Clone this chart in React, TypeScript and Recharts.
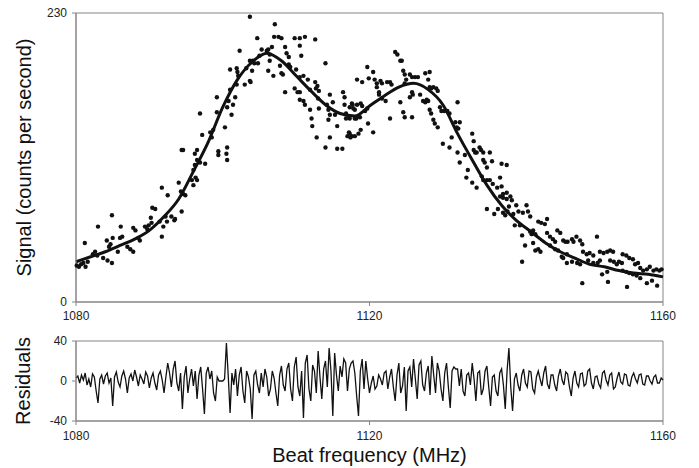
import React from "react";
import { ComposedChart, LineChart, Scatter, Line, XAxis, YAxis, ReferenceArea } from "recharts";

const FONT = '"Liberation Sans", Arial, Helvetica, sans-serif';
const FRAME = "#858585";
const INK = "#111";

const FREQ_TICKS = [1080, 1120, 1160];
const SIGNAL_TICKS = [0, 230];
const RESID_TICKS = [-40, 0, 40];

// measured signal, [beat frequency MHz, counts per second]
const SIGNAL_POINTS: [number, number][] = [
  [1080.1, 29], [1080.4, 28], [1080.7, 30], [1081, 31], [1081.3, 28], [1081.6, 32], [1081.2, 47],
  [1082.3, 38], [1082.6, 40], [1082.9, 37], [1083, 60], [1083.7, 35], [1084.3, 33], [1084.9, 31],
  [1084.2, 49], [1084.5, 44], [1084.7, 46], [1085, 51], [1084.9, 69], [1085.7, 40], [1086, 51],
  [1086.3, 52], [1086.1, 60], [1087, 44], [1087.4, 42], [1087.8, 40], [1087.8, 59], [1088.1, 57],
  [1088.5, 51], [1088.7, 49], [1089.4, 60], [1089.7, 58], [1089.9, 61], [1090.3, 63], [1090.2, 67],
  [1090.4, 75], [1090.8, 74], [1091.4, 64], [1091.7, 52], [1091.9, 60], [1092.2, 68], [1092.4, 64],
  [1091.7, 91], [1092.5, 85], [1093, 68], [1093.4, 65], [1093.5, 66], [1094, 95], [1094.3, 88],
  [1094.6, 86], [1094.9, 85], [1094.4, 72], [1094.4, 121], [1094.6, 121], [1095.8, 97], [1096, 93],
  [1096.3, 99], [1096.5, 97], [1096, 105], [1096.2, 109], [1096.5, 113], [1096.2, 118], [1096.5, 121],
  [1096.9, 111], [1097.6, 110], [1097.2, 133], [1098.3, 135], [1098.5, 131], [1098.7, 137],
  [1099.4, 117], [1100.3, 139], [1100.6, 123], [1100.6, 113], [1096.9, 150], [1099.2, 163],
  [1099.2, 151], [1099.4, 120], [1100.5, 118], [1100.6, 155], [1100.8, 160], [1101, 169],
  [1101.2, 149], [1101.4, 157], [1101.7, 163], [1101.9, 173], [1101, 185], [1101.9, 186], [1102, 183],
  [1102.1, 180], [1102.3, 200], [1103, 173], [1103.2, 186], [1103.7, 176], [1103.8, 175], [1104, 184],
  [1103.7, 227], [1103.7, 192], [1104.1, 192], [1104.3, 190], [1104.8, 190], [1105, 196], [1105.3, 201],
  [1104.7, 210], [1106, 200], [1106.2, 201], [1106.4, 197], [1106.7, 203], [1106.4, 192], [1106.2, 184],
  [1106.9, 180], [1107.1, 221], [1107, 211], [1107.6, 211], [1108, 210], [1108.5, 203], [1108.7, 198],
  [1109, 195], [1107.8, 188], [1108, 182], [1108.2, 181], [1109, 189], [1109.2, 187], [1108.5, 167],
  [1109.8, 210], [1110.5, 210], [1111.2, 211], [1110.5, 204], [1110.7, 196], [1110, 185], [1110.5, 179],
  [1111, 180], [1109.8, 170], [1110.2, 167], [1110.5, 167], [1110.5, 161], [1111, 160], [1111.2, 157],
  [1111.6, 177], [1111.9, 169], [1111.9, 153], [1112.1, 146], [1112.2, 140], [1112.6, 209],
  [1112.6, 175], [1112.7, 170], [1112.9, 172], [1113.1, 168], [1113, 162], [1113.1, 154], [1112.8, 131],
  [1114, 190], [1114.2, 157], [1114.4, 153], [1114.6, 165], [1114.6, 149], [1114.4, 145], [1114, 123],
  [1114.6, 131], [1115, 159], [1115.3, 149], [1115.6, 140], [1115.6, 122], [1116.3, 122], [1116.4, 167],
  [1116.6, 163], [1116.6, 157], [1116.8, 150], [1116.8, 146], [1117, 132], [1117.2, 135], [1117.4, 131],
  [1117.6, 132], [1117.6, 158], [1117.8, 154], [1118, 146], [1118.3, 177], [1117.3, 155], [1117.7, 157],
  [1118, 153], [1118.3, 157], [1118.8, 158], [1119, 156], [1117.3, 146], [1118.2, 146], [1118.7, 147],
  [1117.3, 134], [1118, 132], [1118.5, 134], [1118.8, 137], [1119, 175], [1119.4, 152], [1119.7, 154],
  [1119.7, 187], [1119.9, 178], [1119.8, 142], [1120.5, 135], [1120.5, 183], [1120.7, 177], [1121, 174],
  [1121, 171], [1121.3, 167], [1121.5, 176], [1121.7, 174], [1121.3, 165], [1121.7, 162], [1122.2, 160],
  [1122.4, 175], [1122.8, 175], [1123, 173], [1122.8, 146], [1123.5, 199], [1123.8, 197], [1124.2, 192],
  [1124.4, 192], [1124.2, 159], [1124.6, 184], [1124.8, 181], [1124.8, 174], [1125, 177], [1124.6, 151],
  [1124.8, 147], [1125.5, 181], [1125.8, 179], [1126.2, 179], [1126.6, 179], [1125.5, 163], [1125.8, 167],
  [1125.9, 165], [1125.8, 147], [1126.9, 165], [1127.3, 160], [1127.6, 159], [1127.8, 161], [1128, 160],
  [1127.6, 182], [1128, 177], [1128.2, 183], [1128.2, 171], [1128.4, 170], [1128.7, 171], [1129.1, 170],
  [1129.3, 168], [1128.2, 153], [1128.4, 150], [1128.7, 145], [1128.9, 142], [1129.3, 139], [1129.6, 155],
  [1129.8, 152], [1130.2, 152], [1130.6, 152], [1130.9, 150], [1130, 126], [1130.9, 123], [1131.2, 131],
  [1132, 159], [1131.7, 143], [1131.9, 139], [1132.1, 138], [1132.3, 143], [1132, 119], [1132.3, 111],
  [1133, 117], [1133.4, 105], [1133.2, 99], [1134, 134], [1134.2, 128], [1134.2, 121], [1134.4, 119],
  [1134, 95], [1134.6, 91], [1134.6, 119], [1135, 123], [1135.2, 121], [1135.5, 119], [1135.5, 113],
  [1135.7, 111], [1136, 107], [1135.3, 100], [1135.5, 97], [1136, 97], [1136.4, 97], [1136.4, 119],
  [1136.7, 112], [1136.8, 94], [1137.4, 91], [1138, 110], [1138.7, 109], [1137.8, 99], [1138, 92],
  [1136, 74], [1137, 70], [1137.5, 74], [1138.2, 71], [1138.5, 69], [1138.2, 83], [1138.7, 82],
  [1137.8, 84], [1138.2, 86], [1138.7, 87], [1139.2, 84], [1139.4, 81], [1138.8, 72], [1139, 76],
  [1139.6, 70], [1140, 77], [1140.3, 72], [1140.9, 71], [1141.4, 77], [1141.6, 72], [1141.9, 68],
  [1139.8, 61], [1140.5, 61], [1140.8, 53], [1140.8, 32], [1141.2, 45], [1142.3, 47], [1142.1, 54],
  [1141.9, 56], [1142.3, 57], [1142.6, 54], [1142.6, 41], [1143, 42], [1143.3, 40], [1143, 64],
  [1143.4, 63], [1143.9, 62], [1144.2, 66], [1144.2, 55], [1144.6, 52], [1145, 50], [1145.3, 48],
  [1144.6, 45], [1145.3, 42], [1145.7, 41], [1146.2, 36], [1146.4, 35], [1146.9, 38], [1145.6, 57],
  [1146, 55], [1146.4, 49], [1146.7, 48], [1147, 48], [1147.6, 50], [1147.8, 48], [1148.2, 52],
  [1148.7, 49], [1149, 46], [1146.9, 31], [1147.6, 32], [1148.3, 31], [1148.7, 30], [1149, 15],
  [1149.1, 40], [1149.6, 38], [1150, 39], [1150.5, 37], [1151, 52], [1149.8, 33], [1150.5, 31],
  [1151.1, 31], [1151.4, 33], [1151.4, 40], [1151.9, 39], [1152.4, 40], [1152.8, 41], [1153.2, 40],
  [1151.7, 22], [1152.4, 24], [1152.8, 33], [1153.3, 32], [1153.7, 30], [1154, 32], [1154.4, 31],
  [1154.5, 38], [1155, 37], [1155.4, 35], [1155.9, 34], [1152.5, 16], [1154.5, 25], [1155, 24],
  [1155.4, 23], [1155.9, 22], [1156.4, 21], [1155.1, 12], [1156.9, 27], [1157.3, 25], [1157.8, 26],
  [1158.2, 28], [1158.7, 25], [1159.1, 26], [1159.5, 25], [1159.8, 26], [1156.9, 19], [1157.8, 15],
  [1158.5, 17], [1159.2, 13], [1156.2, 30], [1156.6, 31],
];

// fitted curve
const FIT_FREQ = [
  1080, 1082, 1084, 1086, 1088, 1090, 1092, 1094, 1096, 1098, 1100, 1102, 1104, 1106, 1108, 1110, 1112,
  1114, 1116, 1118, 1120, 1122, 1124, 1126, 1128, 1130, 1132, 1134, 1136, 1138, 1140, 1142, 1144, 1146,
  1148, 1150, 1152, 1154, 1156, 1158, 1160,
];
const FIT_COUNTS = [
  32, 36, 40, 45, 50, 57, 68, 82, 104, 127, 155, 177, 191, 198, 192, 180, 168,
  157, 150, 148, 156, 164, 171, 174, 169, 157, 134, 113, 93, 77, 65, 56, 47, 40,
  35, 30, 28, 25, 23, 22, 20,
];

// residuals, [beat frequency MHz, residual]
const RESIDUALS: [number, number][] = [
  [1080, 3], [1080.25, 5], [1080.5, -2], [1080.75, 6], [1081, 1], [1081.25, 8], [1081.5, -4], [1081.75, 2],
  [1082, -6], [1082.25, 7], [1082.5, 4], [1082.75, -10], [1083, -22], [1083.25, 2], [1083.5, 6], [1083.75, -3],
  [1084, 5], [1084.25, 8], [1084.5, -2], [1084.75, 3], [1085, -25], [1085.25, 4], [1085.5, 9], [1085.75, -1],
  [1086, -6], [1086.25, 5], [1086.5, 10], [1086.75, 2], [1087, -12], [1087.25, 3], [1087.5, 7], [1087.75, 0],
  [1088, 11], [1088.25, 4], [1088.5, -5], [1088.75, 6], [1089, 2], [1089.25, -3], [1089.5, 9], [1089.75, 5],
  [1090, -7], [1090.25, 3], [1090.5, 8], [1090.75, -2], [1091, -9], [1091.25, 6], [1091.5, 10], [1091.75, 1],
  [1092, -12], [1092.25, 4], [1092.5, 18], [1092.75, 8], [1093, -6], [1093.25, 12], [1093.5, 20], [1093.75, -2],
  [1094, -10], [1094.25, 8], [1094.5, -28], [1094.75, 4], [1095, 15], [1095.25, -12], [1095.5, 2], [1095.75, 12],
  [1096, -5], [1096.25, 10], [1096.5, -18], [1096.75, 6], [1097, 14], [1097.25, -8], [1097.5, -33], [1097.75, 8],
  [1098, 14], [1098.25, 2], [1098.5, 10], [1098.75, -12], [1099, -20], [1099.25, 4], [1099.5, 0], [1099.75, 0],
  [1100, 0], [1100.25, 2], [1100.5, 38], [1100.75, 5], [1101, -32], [1101.25, 8], [1101.5, -4], [1101.75, 12],
  [1102, -15], [1102.25, 6], [1102.5, 14], [1102.75, -10], [1103, -22], [1103.25, 10], [1103.5, 4], [1103.75, -8],
  [1104, -38], [1104.25, 6], [1104.5, 10], [1104.75, -4], [1105, -12], [1105.25, 8], [1105.5, -6], [1105.75, 12],
  [1106, 4], [1106.25, -15], [1106.5, -8], [1106.75, 10], [1107, 3], [1107.25, -12], [1107.5, -25], [1107.75, 6],
  [1108, 15], [1108.25, -4], [1108.5, -10], [1108.75, 12], [1109, 18], [1109.25, -8], [1109.5, -20], [1109.75, 14],
  [1110, 24], [1110.25, -6], [1110.5, -15], [1110.75, 10], [1111, -37], [1111.25, 18], [1111.5, 26], [1111.75, -8],
  [1112, -20], [1112.25, 16], [1112.5, 10], [1112.75, -12], [1113, 30], [1113.25, 4], [1113.5, -18], [1113.75, 12],
  [1114, 20], [1114.25, -6], [1114.5, 33], [1114.75, 10], [1115, -35], [1115.25, 28], [1115.5, 6], [1115.75, -10],
  [1116, 15], [1116.25, 4], [1116.5, 22], [1116.75, 18], [1117, -10], [1117.25, 12], [1117.5, 18], [1117.75, 20],
  [1118, 8], [1118.25, -15], [1118.5, -35], [1118.75, 10], [1119, 22], [1119.25, -8], [1119.5, 20], [1119.75, 2],
  [1120, -12], [1120.25, -2], [1120.5, 5], [1120.75, -8], [1121, -5], [1121.25, 6], [1121.5, 2], [1121.75, -4],
  [1122, 8], [1122.25, 10], [1122.5, -8], [1122.75, 4], [1123, 12], [1123.25, -6], [1123.5, -20], [1123.75, 6],
  [1124, 18], [1124.25, -12], [1124.5, -5], [1124.75, 14], [1125, -30], [1125.25, 10], [1125.5, 14], [1125.75, -6],
  [1126, 22], [1126.25, 2], [1126.5, -18], [1126.75, 16], [1127, 20], [1127.25, -4], [1127.5, -10], [1127.75, 8],
  [1128, 15], [1128.25, -14], [1128.5, 25], [1128.75, 6], [1129, -12], [1129.25, 18], [1129.5, 10], [1129.75, -8],
  [1130, -20], [1130.25, 8], [1130.5, 18], [1130.75, -6], [1131, -27], [1131.25, 10], [1131.5, 14], [1131.75, 12],
  [1132, 12], [1132.25, -5], [1132.5, 12], [1132.75, -10], [1133, -15], [1133.25, 6], [1133.5, 8], [1133.75, -4],
  [1134, 18], [1134.25, 2], [1134.5, -20], [1134.75, 8], [1135, 10], [1135.25, -14], [1135.5, -8], [1135.75, 10],
  [1136, 15], [1136.25, -6], [1136.5, -25], [1136.75, 4], [1137, 6], [1137.25, -10], [1137.5, -15], [1137.75, 8],
  [1138, 12], [1138.25, -4], [1138.5, -28], [1138.75, 10], [1139, 33], [1139.25, -6], [1139.5, -30], [1139.75, 2],
  [1140, 8], [1140.25, -4], [1140.5, -10], [1140.75, 6], [1141, 12], [1141.25, -2], [1141.5, -6], [1141.75, 10],
  [1142, 9], [1142.25, -8], [1142.5, -12], [1142.75, 4], [1143, 10], [1143.25, 2], [1143.5, -5], [1143.75, 8],
  [1144, 15], [1144.25, -3], [1144.5, -8], [1144.75, 6], [1145, 6], [1145.25, -4], [1145.5, -10], [1145.75, 5],
  [1146, 12], [1146.25, 1], [1146.5, -4], [1146.75, 9], [1147, 7], [1147.25, -6], [1147.5, -15], [1147.75, 3],
  [1148, 10], [1148.25, -2], [1148.5, -6], [1148.75, 7], [1149, 8], [1149.25, -5], [1149.5, -3], [1149.75, 10],
  [1150, 12], [1150.25, -2], [1150.5, -8], [1150.75, 4], [1151, 5], [1151.25, -3], [1151.5, -7], [1151.75, 8],
  [1152, 10], [1152.25, 1], [1152.5, -4], [1152.75, 6], [1153, 8], [1153.25, -8], [1153.5, -6], [1153.75, 3],
  [1154, 9], [1154.25, -1], [1154.5, -3], [1154.75, 7], [1155, 6], [1155.25, -4], [1155.5, -5], [1155.75, 4],
  [1156, 8], [1156.25, 2], [1156.5, -2], [1156.75, 6], [1157, 7], [1157.25, -3], [1157.5, -4], [1157.75, 5],
  [1158, 5], [1158.25, 0], [1158.5, -3], [1158.75, 4], [1159, 6], [1159.25, -2], [1159.5, -2], [1159.75, 3],
  [1160, 1],
];

const signalData = SIGNAL_POINTS.map(([f, c]) => ({ f, c }));
const fitData = FIT_FREQ.map((f, i) => ({ f, c: FIT_COUNTS[i] }));
const residData = RESIDUALS.map(([f, r]) => ({ f, r }));

const tick = { fontSize: 12, fill: "#222", fontFamily: FONT };
const axisLine = { stroke: FRAME, strokeWidth: 1 };
const titleStyle = { fontSize: 20, fill: "#111", fontFamily: FONT };

const Dot = (p: any) => <circle cx={p.cx} cy={p.cy} r={2.2} fill={INK} />;

export default function App() {
  return (
    <div style={{ position: "absolute", left: 0, top: 0, width: 699, height: 468, background: "#fff" }}>
      <ComposedChart width={699} height={325} margin={{ top: 13, right: 36, bottom: 3, left: 0 }}>
        <XAxis
          type="number" dataKey="f" domain={[1080, 1160]} ticks={FREQ_TICKS} height={20}
          tick={tick} tickSize={4} tickMargin={5} axisLine={axisLine} tickLine={axisLine}
        />
        <YAxis
          type="number" dataKey="c" domain={[0, 230]} ticks={SIGNAL_TICKS} width={76}
          tick={tick} tickSize={4} tickMargin={5} axisLine={axisLine} tickLine={axisLine}
          label={{ value: "Signal (counts per second)", angle: -90, position: "insideLeft", offset: 24, textAnchor: "middle", style: titleStyle }}
        />
        <ReferenceArea x1={1080} x2={1160} y1={0} y2={230} fill="none" stroke={FRAME} strokeWidth={1} />
        <Scatter data={signalData} dataKey="c" shape={Dot} isAnimationActive={false} />
        <Line data={fitData} dataKey="c" type="monotone" stroke={INK} strokeWidth={3} dot={false} isAnimationActive={false} />
      </ComposedChart>
      <LineChart width={699} height={143} data={residData} margin={{ top: 16, right: 36, bottom: 0, left: 0 }}>
        <XAxis
          type="number" dataKey="f" domain={[1080, 1160]} ticks={FREQ_TICKS} height={47}
          tick={tick} tickSize={4} tickMargin={6} axisLine={axisLine} tickLine={axisLine}
          label={{ value: "Beat frequency (MHz)", position: "insideBottom", offset: 6, style: titleStyle }}
        />
        <YAxis
          type="number" domain={[-40, 40]} ticks={RESID_TICKS} width={76}
          tick={tick} tickSize={4} tickMargin={5} axisLine={axisLine} tickLine={axisLine}
          label={{ value: "Residuals", angle: -90, position: "insideLeft", offset: 23, textAnchor: "middle", style: titleStyle }}
        />
        <ReferenceArea x1={1080} x2={1160} y1={-40} y2={40} fill="none" stroke={FRAME} strokeWidth={1} />
        <Line dataKey="r" type="linear" stroke={INK} strokeWidth={1.3} dot={false} isAnimationActive={false} />
      </LineChart>
    </div>
  );
}
